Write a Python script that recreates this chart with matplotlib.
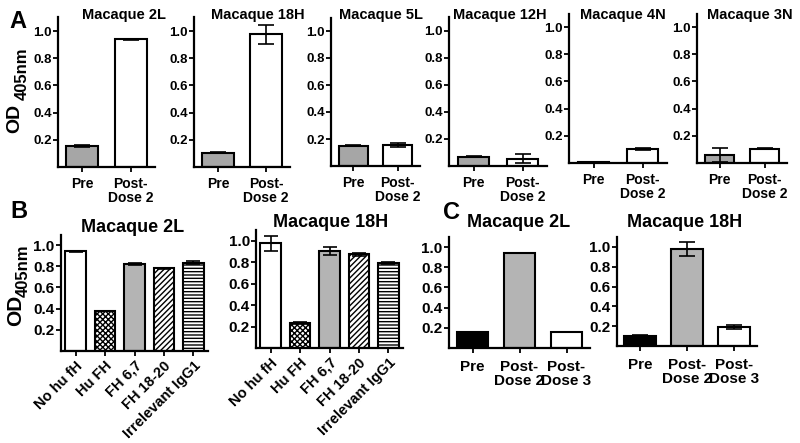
import matplotlib
matplotlib.use("Agg")
import matplotlib.pyplot as plt
import numpy as np

plt.rcParams['font.family'] = ['Liberation Sans', 'DejaVu Sans']
plt.rcParams['font.weight'] = 'bold'
plt.rcParams['hatch.linewidth'] = 1.0

# ---------------- data ----------------
a_titles = ["Macaque 2L", "Macaque 18H", "Macaque 5L", "Macaque 12H", "Macaque 4N", "Macaque 3N"]
a_cats = ["Pre", "Post-\nDose 2"]
a_pre = [0.155, 0.105, 0.150, 0.070, 0.005, 0.060]
a_pre_err = [0.010, 0.005, 0.005, 0.004, 0.002, 0.053]
a_post = [0.940, 0.975, 0.155, 0.055, 0.100, 0.105]
a_post_err = [0.003, 0.070, 0.012, 0.030, 0.008, 0.005]

b_titles = ["Macaque 2L", "Macaque 18H"]
b_cats = ["No hu fH", "Hu FH", "FH 6,7", "FH 18-20", "Irrelevant IgG1"]
b_vals_2L = [0.940, 0.380, 0.820, 0.780, 0.835]
b_err_2L = [0.002, 0.002, 0.012, 0.002, 0.015]
b_vals_18H = [0.975, 0.230, 0.905, 0.875, 0.790]
b_err_18H = [0.070, 0.010, 0.040, 0.015, 0.008]

c_titles = ["Macaque 2L", "Macaque 18H"]
c_cats = ["Pre", "Post-\nDose 2", "Post-\nDose 3"]
c_vals_2L = [0.155, 0.940, 0.160]
c_err_2L = [0.008, 0.003, 0.003]
c_vals_18H = [0.105, 0.975, 0.195]
c_err_18H = [0.005, 0.070, 0.020]

# ---------------- layout ----------------
W, H = 800, 443
fig = plt.figure(figsize=(W / 100, H / 100), dpi=100)


def add_ax(x0, x1, ytop, ybot):
    return fig.add_axes([x0 / W, 1 - ybot / H, (x1 - x0) / W, (ybot - ytop) / H])


def style(ax, xlim, tick_fs, xpad):
    ax.set_ylim(0, 1.1)
    ax.set_xlim(*xlim)
    for s in ['top', 'right']:
        ax.spines[s].set_visible(False)
    for s in ['left', 'bottom']:
        ax.spines[s].set_linewidth(1.6)
    ax.set_yticks([0.2, 0.4, 0.6, 0.8, 1.0])
    ax.set_yticklabels(["0.2", "0.4", "0.6", "0.8", "1.0"], fontsize=tick_fs, fontweight='bold')
    ax.tick_params(axis='both', direction='out', length=3.5, width=1.3)
    ax.tick_params(axis='y', pad=1)
    ax.tick_params(axis='x', pad=xpad)


ekw = dict(elinewidth=1.2, capthick=1.2, ecolor='black')

# Panel A
a_rects = [(58, 155, 17.4, 167), (194, 290, 17.4, 167), (331, 420, 17.5, 166),
           (449, 547, 17, 166), (569, 667, 13.5, 163), (697, 787, 13.5, 163)]
a_title_x = [124, 258, 381, 500, 623, 750]
for i, r in enumerate(a_rects):
    ax = add_ax(*r)
    x = np.arange(2)
    ax.bar(x, [a_pre[i], a_post[i]], width=0.65, color=['#a6a6a6', 'white'],
           edgecolor='black', linewidth=1.5, zorder=2)
    ax.errorbar(x, [a_pre[i], a_post[i]], yerr=[a_pre_err[i], a_post_err[i]],
                fmt='none', capsize=6, zorder=3, **ekw)
    style(ax, (-0.5, 1.5), 9.5, 4)
    ax.set_xticks(x)
    ax.set_xticklabels(a_cats, fontsize=10, fontweight='bold', linespacing=1.0)
    fig.text(a_title_x[i] / W, 1 - 15 / H, a_titles[i], ha='center', va='center',
             fontsize=10.5, fontweight='bold')

# Panel B
b_rects = [(61, 208, 234.5, 351), (256, 403, 230, 348)]
b_title_pos = [(133, 227), (331, 223)]
b_data = [(b_vals_2L, b_err_2L), (b_vals_18H, b_err_18H)]
b_colors = ['white', 'white', '#b4b4b4', 'white', 'white']
b_hatch = [None, 'xxxxxx', None, '//////', '-----']
for i, r in enumerate(b_rects):
    ax = add_ax(*r)
    x = np.arange(5)
    vals, errs = b_data[i]
    bars = ax.bar(x, vals, width=0.7, color=b_colors, edgecolor='black',
                  linewidth=1.5, zorder=2)
    for b, h in zip(bars, b_hatch):
        if h:
            b.set_hatch(h)
    ax.errorbar(x, vals, yerr=errs, fmt='none', capsize=5, zorder=3, **ekw)
    style(ax, (-0.5, 4.5), 11, 2)
    ax.set_xticks(x)
    ax.set_xticklabels(b_cats, fontsize=10.5, fontweight='bold', rotation=45,
                       ha='right', rotation_mode='anchor')
    fig.text(b_title_pos[i][0] / W, 1 - b_title_pos[i][1] / H, b_titles[i],
             ha='center', va='center', fontsize=13, fontweight='bold')

# Panel C
c_rects = [(449, 590, 237, 348), (617, 757, 237, 346)]
c_title_pos = [(519, 223), (685, 223)]
c_data = [(c_vals_2L, c_err_2L), (c_vals_18H, c_err_18H)]
c_colors = ['black', '#b4b4b4', 'white']
for i, r in enumerate(c_rects):
    ax = add_ax(*r)
    x = np.arange(3)
    vals, errs = c_data[i]
    ax.bar(x, vals, width=0.68, color=c_colors, edgecolor='black', linewidth=1.5, zorder=2)
    ax.errorbar(x, vals, yerr=errs, fmt='none', capsize=6, zorder=3, **ekw)
    style(ax, (-0.5, 2.5), 11, 5)
    ax.set_xticks(x)
    ax.set_xticklabels(c_cats, fontsize=11, fontweight='bold', linespacing=1.0)
    fig.text(c_title_pos[i][0] / W, 1 - c_title_pos[i][1] / H, c_titles[i],
             ha='center', va='center', fontsize=13, fontweight='bold')

# Y labels (OD with subscript 405nm)
fig.text(15 / W, 1 - 118 / H, "OD", rotation=90, ha='center', va='center',
         fontsize=14, fontweight='bold')
fig.text(22 / W, 1 - 74 / H, "405nm", rotation=90, ha='center', va='center',
         fontsize=12, fontweight='bold')
fig.text(15.5 / W, 1 - 310 / H, "OD", rotation=90, ha='center', va='center',
         fontsize=15, fontweight='bold')
fig.text(23.5 / W, 1 - 271 / H, "405nm", rotation=90, ha='center', va='center',
         fontsize=12, fontweight='bold')

# Panel letters
fig.text(18 / W, 1 - 22 / H, "A", ha='center', va='center', fontsize=17, fontweight='bold')
fig.text(19 / W, 1 - 212 / H, "B", ha='center', va='center', fontsize=17, fontweight='bold')
fig.text(451 / W, 1 - 213 / H, "C", ha='center', va='center', fontsize=17, fontweight='bold')

fig.savefig("out.png", dpi=100, facecolor='white')
